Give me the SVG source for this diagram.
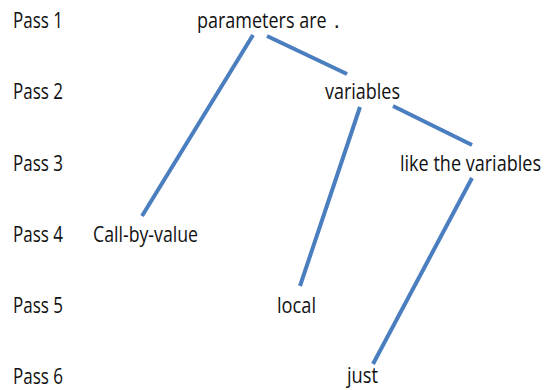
<svg xmlns="http://www.w3.org/2000/svg" width="546" height="390" viewBox="0 0 546 390">
<style>
text{font-family:"Open Sans","Liberation Sans",sans-serif;font-size:21px;fill:#111}
.c line{stroke:#4a7ebf;stroke-width:4;stroke-linecap:butt}
</style>
<rect width="546" height="390" fill="#fff"/>
<g id="labels">
<text x="13" y="28" textLength="50" lengthAdjust="spacingAndGlyphs">Pass 1</text>
<text x="13" y="99" textLength="50" lengthAdjust="spacingAndGlyphs">Pass 2</text>
<text x="13" y="171" textLength="50" lengthAdjust="spacingAndGlyphs">Pass 3</text>
<text x="13" y="242" textLength="50" lengthAdjust="spacingAndGlyphs">Pass 4</text>
<text x="13" y="313" textLength="50" lengthAdjust="spacingAndGlyphs">Pass 5</text>
<text x="13" y="384" textLength="50" lengthAdjust="spacingAndGlyphs">Pass 6</text>
</g>
<g class="c" id="connectors">
<line x1="253" y1="35" x2="142" y2="216"/>
<line x1="267" y1="36" x2="347" y2="74"/>
<line x1="360" y1="107" x2="300" y2="286"/>
<line x1="393" y1="106" x2="472" y2="145"/>
<line x1="472" y1="178" x2="373" y2="364"/>
</g>
<g id="n-parameters"><text transform="translate(197,28) scale(0.81,1)" x="0" y="0" textLength="160" lengthAdjust="spacingAndGlyphs">parameters are</text><text x="334" y="28">.</text></g>
<g id="n-variables"><text x="325" y="99" textLength="75" lengthAdjust="spacingAndGlyphs">variables</text></g>
<g id="n-like"><text transform="translate(400,171) scale(0.865,1)" x="0" y="0" textLength="163" lengthAdjust="spacingAndGlyphs">like the variables</text></g>
<g id="n-call"><text x="93" y="242" textLength="105" lengthAdjust="spacingAndGlyphs">Call-by-value</text></g>
<g id="n-local"><text x="277" y="313" textLength="39" lengthAdjust="spacingAndGlyphs">local</text></g>
<g id="n-just"><text x="347" y="383" textLength="31" lengthAdjust="spacingAndGlyphs">just</text></g>
</svg>
